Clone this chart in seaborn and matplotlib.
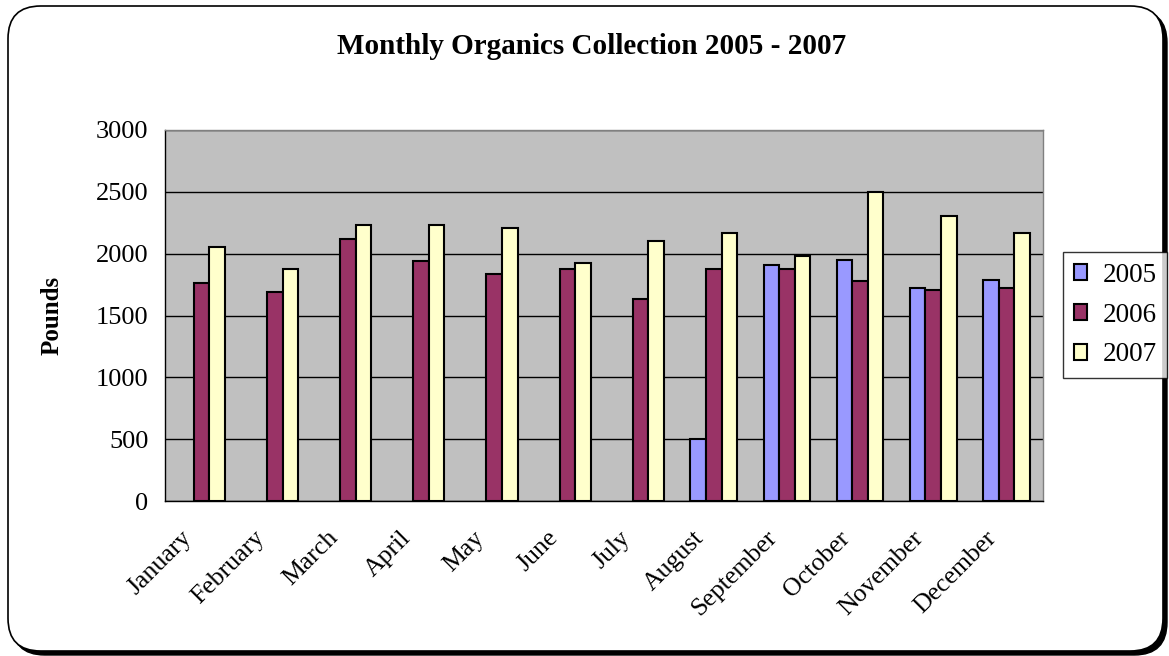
import numpy as np
import pandas as pd
import matplotlib
matplotlib.use("Agg")
import matplotlib.pyplot as plt
from matplotlib.patches import FancyBboxPatch
from matplotlib.transforms import ScaledTranslation
import seaborn as sns

months = ["January", "February", "March", "April", "May", "June",
          "July", "August", "September", "October", "November", "December"]
years = ["2005", "2006", "2007"]
pounds_2005 = [np.nan, np.nan, np.nan, np.nan, np.nan, np.nan,
               np.nan, 500, 1910, 1950, 1720, 1790]
pounds_2006 = [1760, 1690, 2115, 1940, 1835, 1880,
               1630, 1880, 1880, 1775, 1705, 1720]
pounds_2007 = [2055, 1880, 2230, 2230, 2205, 1925,
               2100, 2170, 1985, 2500, 2305, 2170]
colors = ["#9999FF", "#993366", "#FFFFCC"]

df = pd.DataFrame({
    "Month": months * 3,
    "Year": [y for y in years for _ in months],
    "Pounds": pounds_2005 + pounds_2006 + pounds_2007,
})

sns.set_theme(style="white")
plt.rcParams["font.family"] = ["Liberation Serif", "DejaVu Serif"]
plt.rcParams["text.color"] = "black"
plt.rcParams["axes.labelcolor"] = "black"
plt.rcParams["xtick.color"] = "black"
plt.rcParams["ytick.color"] = "black"

fig = plt.figure(figsize=(11.69, 6.56), dpi=100)
fig.patch.set_facecolor("white")

# rounded chart frame with a drop shadow
W, H = 1169, 656
shadow = FancyBboxPatch((12 / W, 1 - 655 / H), 1155 / W, 645 / H,
                        boxstyle="round,pad=0,rounding_size=0.028",
                        transform=fig.transFigure, facecolor="black",
                        edgecolor="black", lw=1, zorder=0,
                        mutation_aspect=W / H)
frame = FancyBboxPatch((8 / W, 1 - 651 / H), 1155 / W, 645 / H,
                       boxstyle="round,pad=0,rounding_size=0.028",
                       transform=fig.transFigure, facecolor="white",
                       edgecolor="black", lw=1.2, zorder=1,
                       mutation_aspect=W / H)
fig.patches.extend([shadow, frame])

ax = fig.add_axes([165 / W, 1 - 501 / H, 878 / W, 371 / H])
ax.set_zorder(2)
ax.set_facecolor("#C0C0C0")

sns.barplot(data=df, x="Month", y="Pounds", hue="Year", order=months,
            hue_order=years, palette=colors, saturation=1, width=0.64,
            edgecolor="black", linewidth=1.5, ax=ax, legend=True)

ax.set_ylim(0, 3000)
ax.set_xlim(-0.5, 11.5)
ax.set_yticks(np.arange(0, 3001, 500))
ax.yaxis.grid(True, color="black", linewidth=1)
ax.set_axisbelow(True)

for s in ["top", "right"]:
    ax.spines[s].set_color("#808080")
    ax.spines[s].set_linewidth(1)
for s in ["left", "bottom"]:
    ax.spines[s].set_color("black")
    ax.spines[s].set_linewidth(1)

ax.tick_params(axis="y", which="major", direction="out", length=6,
               width=1, color="black", labelsize=19, pad=6)
ax.tick_params(axis="x", which="major", length=0, labelsize=18.5, pad=10)
ax.set_xticks(np.arange(-0.5, 12, 1), minor=True)
ax.tick_params(axis="x", which="minor", direction="out", length=6,
               width=1, color="black")
ax.set_xticklabels(months, rotation=45, ha="right", rotation_mode="anchor")
shift = ScaledTranslation(-21 / 100, -12 / 100, fig.dpi_scale_trans)
for lbl in ax.get_xticklabels():
    lbl.set_transform(lbl.get_transform() + shift)

ax.set_xlabel("")
ax.set_ylabel("Pounds", fontsize=18, fontweight="bold", labelpad=23)

fig.text(592 / W, 1 - 47 / H, "Monthly Organics Collection 2005 - 2007",
         ha="center", va="center", fontsize=21, fontweight="bold")

handles, labels = ax.get_legend_handles_labels()
ax.legend(handles, labels, loc="center left",
          bbox_to_anchor=(1063 / W, 1 - 315 / H),
          bbox_transform=fig.transFigure, frameon=True, fancybox=False,
          edgecolor="black", fontsize=19.5, handlelength=0.5, handleheight=0.5,
          handletextpad=0.55, labelspacing=0.55, borderpad=0.4,
          borderaxespad=0)
ax.get_legend().get_frame().set_linewidth(1)

fig.savefig("out.png", dpi=100, facecolor="white")
